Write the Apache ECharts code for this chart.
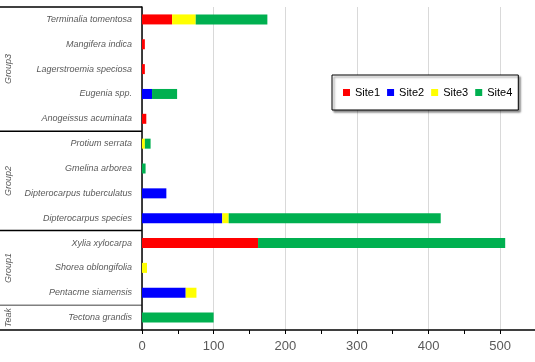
<!DOCTYPE html>
<html>
<head>
<meta charset="utf-8">
<script src="https://cdn.jsdelivr.net/npm/echarts@6/dist/echarts.min.js"></script>
<style>
  html, body { margin: 0; padding: 0; background: #fff; }
  #chart { width: 535px; height: 362px; }
</style>
</head>
<body>
<div id="chart"></div>
<script>
// species, top to bottom
const species = [
  'Terminalia tomentosa', 'Mangifera indica', 'Lagerstroemia speciosa', 'Eugenia spp.',
  'Anogeissus acuminata', 'Protium serrata', 'Gmelina arborea', 'Dipterocarpus tuberculatus',
  'Dipterocarpus species', 'Xylia xylocarpa', 'Shorea oblongifolia', 'Pentacme siamensis',
  'Tectona grandis',
]
const site1 = [42, 4, 4, 0, 6, 0, 0, 0, 0, 162, 0, 0, 0]
const site2 = [0, 0, 0, 14, 0, 0, 0, 34, 112, 0, 0, 61, 0]
const site3 = [33, 0, 0, 0, 0, 4, 0, 0, 9, 0, 7, 15, 0]
const site4 = [100, 0, 0, 35, 0, 8, 5, 0, 296, 345, 0, 0, 100]
const siteNames = ['Site1', 'Site2', 'Site3', 'Site4']
const siteColors = ['#ff0000', '#0000ff', '#ffff00', '#00b050']
// groups on the outer axis level (top to bottom), with how many rows each spans
const groupNames = ['Group3', 'Group2', 'Group1', 'Teak']
const groupSizes = [5, 4, 3, 1]
const xTicks = [0, 100, 200, 300, 400, 500]

const labelColor = '#595959'
const gridLeft = 142

const chart = echarts.init(document.getElementById('chart'))

const series = [site1, site2, site3, site4].map((data, i) => ({
  name: siteNames[i],
  type: 'bar',
  stack: 'total',
  barWidth: 10,
  xAxisIndex: 0,
  itemStyle: { color: siteColors[i] },
  emphasis: { disabled: true },
  data: data.map((v) => (v ? v : null)),
}))

const option = {
  animation: false,
  color: siteColors,
  legend: {
    data: siteNames,
    left: 332,
    top: 75,
    orient: 'horizontal',
    icon: 'rect',
    itemWidth: 7,
    itemHeight: 7,
    itemGap: 7,
    padding: [12, 6, 12, 11],
    borderColor: '#000',
    borderWidth: 1,
    backgroundColor: '#fff',
    shadowColor: 'rgba(0,0,0,0.45)',
    shadowBlur: 2,
    shadowOffsetX: 2,
    shadowOffsetY: 2,
    textStyle: { color: '#000', fontSize: 11, fontFamily: 'Liberation Sans' },
  },
  grid: {
    left: gridLeft,
    right: -1,
    top: 7,
    bottom: 32,
    outerBoundsMode: 'none',
    containLabel: false,
  },
  xAxis: [
    {
      type: 'value',
      min: 0,
      max: 550,
      interval: 50,
      axisLine: { show: true, lineStyle: { color: '#000', width: 1.5 } },
      axisTick: { show: true, length: 4, lineStyle: { color: '#000' } },
      splitLine: { show: false },
      axisLabel: {
        color: labelColor,
        fontSize: 13,
        fontFamily: 'Liberation Sans',
        margin: 10,
        formatter: (v) => (xTicks.includes(v) ? String(v) : ''),
      },
    },
    {
      // gridlines only
      type: 'value',
      min: 0,
      max: 550,
      interval: 100,
      position: 'bottom',
      axisLine: { show: false },
      axisTick: { show: false },
      axisLabel: { show: false },
      splitLine: { show: true, lineStyle: { color: '#d9d9d9', width: 1 } },
    },
  ],
  yAxis: {
    type: 'category',
    inverse: true,
    data: species,
    axisLine: { show: true, lineStyle: { color: '#000', width: 1.5 } },
    axisTick: { show: false },
    axisLabel: {
      color: labelColor,
      fontSize: 9,
      fontStyle: 'italic',
      fontFamily: 'Liberation Sans',
      margin: 10,
    },
  },
  series,
}

chart.setOption(option)

// outer level of the category axis: boxes and rotated group names
function drawGroups() {
  const c0 = chart.convertToPixel({ yAxisIndex: 0 }, species[0])
  const c1 = chart.convertToPixel({ yAxisIndex: 0 }, species[1])
  const band = c1 - c0
  const edge = (i) => c0 - band / 2 + i * band
  const elements = []
  const line = (y, color) => ({
    type: 'line',
    silent: true,
    shape: { x1: 0, y1: y, x2: gridLeft, y2: y },
    style: { stroke: color, lineWidth: 1.5 },
  })
  elements.push(line(edge(0), '#000'))
  let start = 0
  groupNames.forEach((name, g) => {
    const end = start + groupSizes[g]
    const yEnd = edge(end)
    const isLast = g === groupNames.length - 1
    const nextIsSingle = !isLast && groupSizes[g + 1] === 1
    elements.push(line(yEnd, isLast ? '#000' : nextIsSingle ? '#808080' : '#000'))
    elements.push({
      type: 'text',
      silent: true,
      x: 8,
      y: (edge(start) + yEnd) / 2,
      rotation: Math.PI / 2,
      style: {
        text: name,
        align: 'center',
        verticalAlign: 'middle',
        fill: labelColor,
        font: 'italic 9px "Liberation Sans"',
      },
    })
    start = end
  })
  chart.setOption({ graphic: elements })
}
drawGroups()
</script>
</body>
</html>
